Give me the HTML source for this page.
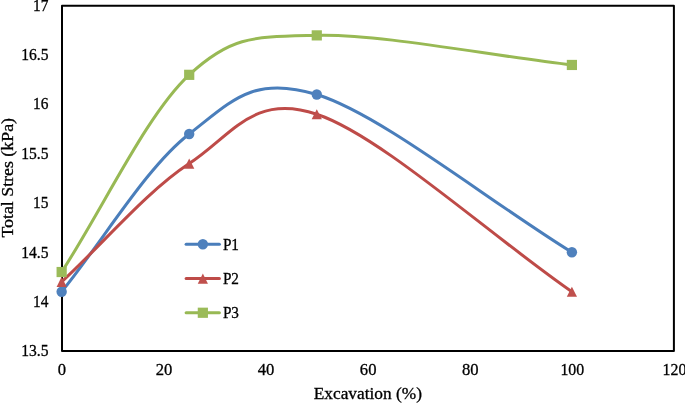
<!DOCTYPE html><html><head><meta charset="utf-8"><title>chart</title><style>html,body{margin:0;padding:0;background:#fff}svg{display:block}text{font-family:"Liberation Serif","Times New Roman",serif;font-size:16.6px;fill:#000;stroke:#000;stroke-width:0.3px}</style></head><body>
<svg width="685" height="403" viewBox="0 0 685 403">
<rect width="685" height="403" fill="#fff"/>
<rect x="62.0" y="5.8" width="611.90" height="345.10" fill="none" stroke="#000" stroke-width="2" stroke-linejoin="round"/>
<path d="M61.65,291.74 C104.17,239.15 146.69,166.85 189.21,133.98 C231.73,101.11 252.99,74.82 316.78,94.54 C380.56,114.26 486.86,199.71 571.90,252.30" fill="none" stroke="#4A7EBB" stroke-width="3" stroke-linecap="round" stroke-linejoin="round"/>
<circle cx="61.65" cy="291.74" r="5.2" fill="#4F81BD"/>
<circle cx="189.21" cy="133.98" r="5.2" fill="#4F81BD"/>
<circle cx="316.78" cy="94.54" r="5.2" fill="#4F81BD"/>
<circle cx="571.90" cy="252.30" r="5.2" fill="#4F81BD"/>
<path d="M61.65,281.88 C104.17,242.44 146.69,191.50 189.21,163.56 C231.73,135.62 252.99,92.90 316.78,114.26 C380.56,135.62 486.86,232.58 571.90,291.74" fill="none" stroke="#BE4B48" stroke-width="3" stroke-linecap="round" stroke-linejoin="round"/>
<polygon points="61.65,276.78 66.75,286.98 56.55,286.98" fill="#C0504D"/>
<polygon points="189.21,158.46 194.31,168.66 184.11,168.66" fill="#C0504D"/>
<polygon points="316.78,109.16 321.88,119.36 311.68,119.36" fill="#C0504D"/>
<polygon points="571.90,286.64 577.00,296.84 566.80,296.84" fill="#C0504D"/>
<path d="M61.65,272.02 C104.17,206.29 146.69,114.26 189.21,74.82 C231.73,35.38 252.99,37.02 316.78,35.38 C380.56,33.74 486.86,55.10 571.90,64.96" fill="none" stroke="#98B954" stroke-width="3" stroke-linecap="round" stroke-linejoin="round"/>
<rect x="56.55" y="266.92" width="10.2" height="10.2" fill="#9BBB59"/>
<rect x="184.11" y="69.72" width="10.2" height="10.2" fill="#9BBB59"/>
<rect x="311.68" y="30.28" width="10.2" height="10.2" fill="#9BBB59"/>
<rect x="566.80" y="59.86" width="10.2" height="10.2" fill="#9BBB59"/>
<text x="48.5" y="356.35" text-anchor="end" textLength="27.3" lengthAdjust="spacingAndGlyphs">13.5</text>
<text x="48.5" y="306.97" text-anchor="end" textLength="15.4" lengthAdjust="spacingAndGlyphs">14</text>
<text x="48.5" y="257.59" text-anchor="end" textLength="27.3" lengthAdjust="spacingAndGlyphs">14.5</text>
<text x="48.5" y="208.21" text-anchor="end" textLength="15.4" lengthAdjust="spacingAndGlyphs">15</text>
<text x="48.5" y="158.83" text-anchor="end" textLength="27.3" lengthAdjust="spacingAndGlyphs">15.5</text>
<text x="48.5" y="109.45" text-anchor="end" textLength="15.4" lengthAdjust="spacingAndGlyphs">16</text>
<text x="48.5" y="60.07" text-anchor="end" textLength="27.3" lengthAdjust="spacingAndGlyphs">16.5</text>
<text x="48.5" y="10.69" text-anchor="end" textLength="15.4" lengthAdjust="spacingAndGlyphs">17</text>
<text x="61.85" y="374.9" text-anchor="middle">0</text>
<text x="163.95" y="374.9" text-anchor="middle">20</text>
<text x="266.05" y="374.9" text-anchor="middle">40</text>
<text x="368.15" y="374.9" text-anchor="middle">60</text>
<text x="470.25" y="374.9" text-anchor="middle">80</text>
<text x="572.35" y="374.9" text-anchor="middle" textLength="23.8" lengthAdjust="spacingAndGlyphs">100</text>
<text x="674.45" y="374.9" text-anchor="middle" textLength="23.8" lengthAdjust="spacingAndGlyphs">120</text>
<text x="367.85" y="399.4" text-anchor="middle" textLength="108.2" lengthAdjust="spacingAndGlyphs">Excavation (%)</text>
<text transform="translate(12.8,177.8) rotate(-90)" text-anchor="middle" textLength="119.6" lengthAdjust="spacingAndGlyphs">Total Stres (kPa)</text>
<line x1="186.1" y1="244.3" x2="219.4" y2="244.3" stroke="#4A7EBB" stroke-width="3" stroke-linecap="round"/>
<circle cx="202.85" cy="244.30" r="5.2" fill="#4F81BD"/>
<text x="222.9" y="249.75" textLength="16.1" lengthAdjust="spacingAndGlyphs">P1</text>
<line x1="186.1" y1="278.6" x2="219.4" y2="278.6" stroke="#BE4B48" stroke-width="3" stroke-linecap="round"/>
<polygon points="202.85,273.50 207.95,283.70 197.75,283.70" fill="#C0504D"/>
<text x="222.9" y="284.05" textLength="16.1" lengthAdjust="spacingAndGlyphs">P2</text>
<line x1="186.1" y1="312.75" x2="219.4" y2="312.75" stroke="#98B954" stroke-width="3" stroke-linecap="round"/>
<rect x="197.75" y="307.65" width="10.2" height="10.2" fill="#9BBB59"/>
<text x="222.9" y="318.20" textLength="16.1" lengthAdjust="spacingAndGlyphs">P3</text>
</svg></body></html>
